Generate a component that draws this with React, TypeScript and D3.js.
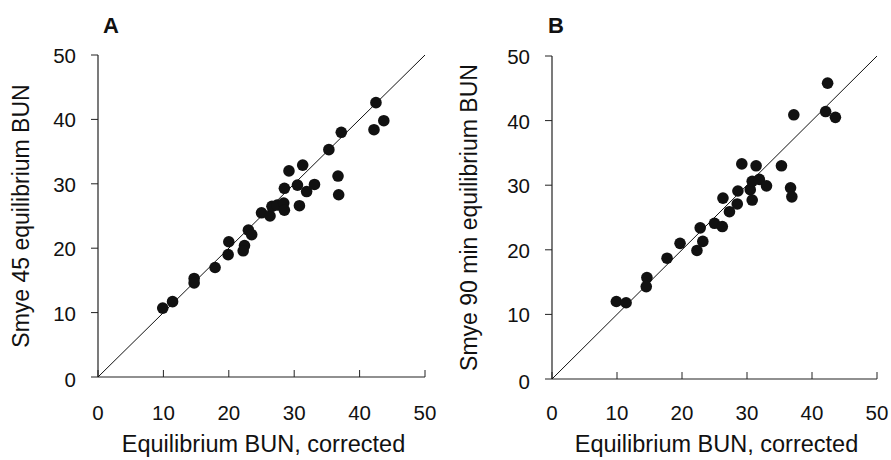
import * as d3 from "d3";

// Panel A: Smye 45 vs corrected equilibrium BUN
const aX = [9.9, 11.4, 14.7, 14.7, 17.9, 20.0, 19.9, 22.4, 22.2, 23.0, 23.5, 25.0, 26.3, 26.6, 27.4, 28.4, 28.5, 28.5, 29.2, 30.5, 30.8, 31.3, 31.9, 33.1, 35.3, 37.2, 36.7, 36.8, 42.5, 42.2, 43.7];
const aY = [10.7, 11.7, 15.3, 14.6, 17.0, 21.0, 19.0, 20.4, 19.6, 22.8, 22.1, 25.5, 25.0, 26.5, 26.7, 27.0, 25.9, 29.3, 32.0, 29.8, 26.6, 32.9, 28.8, 29.9, 35.3, 38.0, 31.2, 28.3, 42.6, 38.4, 39.8];

// Panel B: Smye 90 min vs corrected equilibrium BUN
const bX = [9.9, 11.4, 14.6, 14.5, 17.7, 19.7, 22.3, 23.2, 22.8, 25.0, 26.2, 26.3, 27.3, 28.5, 28.6, 29.2, 30.5, 30.8, 30.8, 31.9, 31.4, 33.0, 35.3, 37.2, 36.7, 36.9, 42.4, 42.1, 43.6];
const bY = [12.0, 11.8, 15.7, 14.3, 18.7, 21.0, 19.9, 21.3, 23.4, 24.1, 23.6, 28.0, 25.9, 27.1, 29.1, 33.3, 29.3, 27.7, 30.6, 30.9, 33.0, 29.9, 33.0, 40.9, 29.6, 28.2, 45.8, 41.4, 40.5];

const ticks = [0, 10, 20, 30, 40, 50];
const xTitle = "Equilibrium BUN, corrected";

const font = "'Liberation Sans', Arial, Helvetica, sans-serif";

interface PanelProps {
  letter: string;
  xs: number[];
  ys: number[];
  yTitle: string;
  left: number;
  right: number;
  top: number;
  bottom: number;
  letterX: number;
  yTitleX: number;
}

function Panel({ letter, xs, ys, yTitle, left, right, top, bottom, letterX, yTitleX }: PanelProps) {
  const x = d3.scaleLinear().domain([0, 50]).range([left, right]);
  const y = d3.scaleLinear().domain([0, 50]).range([bottom, top]);
  const midY = (top + bottom) / 2;

  return (
    <g>
      <text x={letterX} y={33} fontFamily={font} fontWeight="bold" fontSize={22} fill="#111">
        {letter}
      </text>

      {/* axes */}
      <line x1={x(0)} x2={x(50)} y1={y(0)} y2={y(0)} stroke="#222" strokeWidth={1.2} />
      <line x1={x(0)} x2={x(0)} y1={y(0)} y2={y(50)} stroke="#222" strokeWidth={1.2} />
      {ticks.map((t) => (
        <g key={"x" + t}>
          <line x1={x(t)} x2={x(t)} y1={y(0)} y2={y(0) - 7} stroke="#222" strokeWidth={1} />
          <text x={x(t)} y={420} textAnchor="middle" fontFamily={font} fontSize={20.5} fill="#111">
            {t}
          </text>
        </g>
      ))}
      {ticks.map((t) => (
        <g key={"y" + t}>
          <line x1={x(0) - 7} x2={x(0)} y1={y(t)} y2={y(t)} stroke="#222" strokeWidth={1} />
          <text
            x={x(0) - 22}
            y={y(t) + (t === 0 ? 10 : 8)}
            textAnchor="end"
            fontFamily={font}
            fontSize={20.5}
            fill="#111"
          >
            {t}
          </text>
        </g>
      ))}

      {/* identity line */}
      <line x1={x(0)} y1={y(0)} x2={x(50)} y2={y(50)} stroke="#111" strokeWidth={1} />

      {xs.map((v, i) => (
        <circle key={i} cx={x(v)} cy={y(ys[i])} r={5.8} fill="#111" />
      ))}

      <text
        x={(left + right) / 2 + 2}
        y={452}
        textAnchor="middle"
        fontFamily={font}
        fontSize={23.5}
        fill="#111"
      >
        {xTitle}
      </text>
      <text
        transform={`translate(${yTitleX},${midY}) rotate(-90)`}
        textAnchor="middle"
        fontFamily={font}
        fontSize={23}
        fill="#111"
      >
        {yTitle}
      </text>
    </g>
  );
}

export default function App() {
  return (
    <svg
      width={891}
      height={460}
      style={{ position: "absolute", left: 0, top: 0, background: "#fff" }}
    >
      <Panel
        letter="A"
        xs={aX}
        ys={aY}
        yTitle="Smye 45 equilibrium BUN"
        left={98}
        right={425}
        top={55}
        bottom={377}
        letterX={103}
        yTitleX={29}
      />
      <Panel
        letter="B"
        xs={bX}
        ys={bY}
        yTitle="Smye 90 min equilibrium BUN"
        left={552}
        right={877}
        top={56}
        bottom={379}
        letterX={548}
        yTitleX={477}
      />
    </svg>
  );
}
